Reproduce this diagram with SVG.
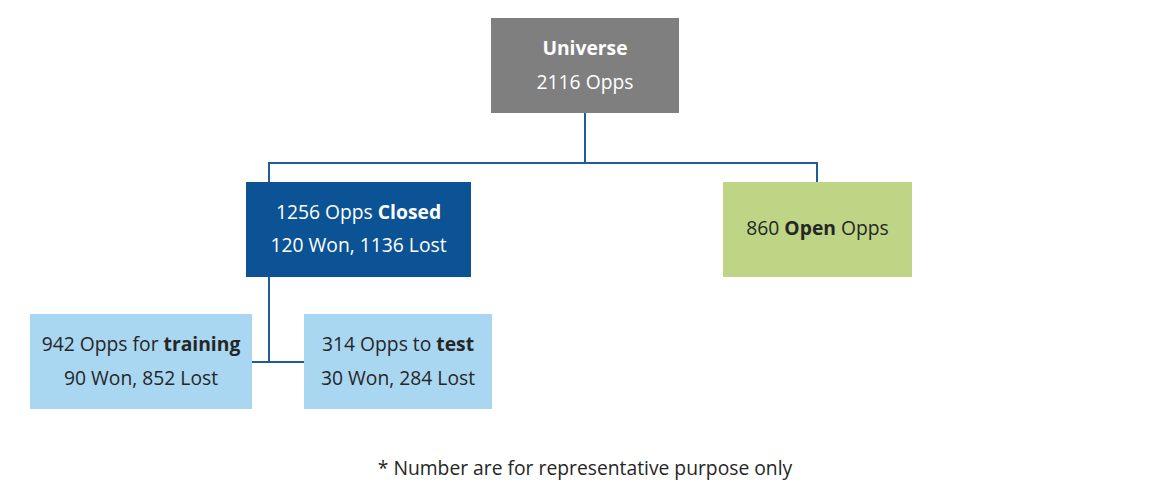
<svg xmlns="http://www.w3.org/2000/svg" width="1161" height="498" viewBox="0 0 1161 498">
<style>
text{font-family:"Open Sans","Noto Sans","Liberation Sans",sans-serif;font-size:19.3px;text-anchor:middle}
.w{fill:#ffffff}
.d{fill:#262626}
.b{font-weight:bold}
.ln{stroke:#1f5c9e;stroke-width:2;fill:none}
</style>
<rect width="1161" height="498" fill="#ffffff"/>
<g id="connectors">
<path class="ln" d="M585,113 V163 M268,163 H818 M269,163 V182 M817,163 V182 M269,277 V362 M252,362 H304"/>
</g>
<g id="universe">
<rect x="491" y="18" width="188" height="95" fill="#7f7f7f"/>
<text x="585" y="55" class="w b">Universe</text>
<text x="585" y="89" class="w">2116 Opps</text>
</g>
<g id="closed">
<rect x="246" y="182" width="225" height="95" fill="#0b5394"/>
<text x="358.5" y="219" class="w">1256 Opps <tspan class="b">Closed</tspan></text>
<text x="358.5" y="252" class="w">120 Won, 1136 Lost</text>
</g>
<g id="open">
<rect x="723" y="182" width="189" height="95" fill="#bdd585"/>
<text x="817.5" y="235" class="d">860 <tspan class="b">Open</tspan> Opps</text>
</g>
<g id="training">
<rect x="30" y="314" width="222" height="95" fill="#a9d7f2"/>
<text x="141" y="351" class="d">942 Opps for <tspan class="b">training</tspan></text>
<text x="141" y="385" class="d">90 Won, 852 Lost</text>
</g>
<g id="test">
<rect x="304" y="314" width="188" height="95" fill="#a9d7f2"/>
<text x="398" y="351" class="d">314 Opps to <tspan class="b">test</tspan></text>
<text x="398" y="385" class="d">30 Won, 284 Lost</text>
</g>
<text x="585" y="475" class="d">* Number are for representative purpose only</text>
</svg>
